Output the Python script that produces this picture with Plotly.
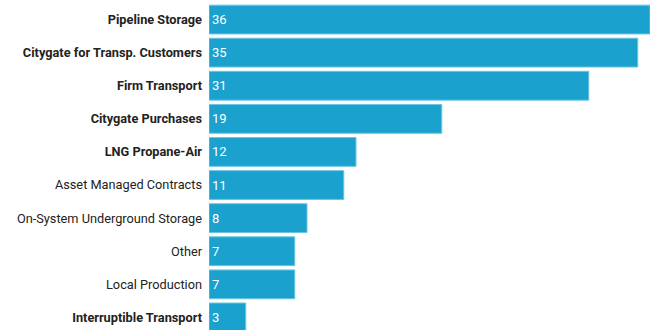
import plotly.graph_objects as go

# Gas supply resources, sorted largest first
categories = [
    "Pipeline Storage",
    "Citygate for Transp. Customers",
    "Firm Transport",
    "Citygate Purchases",
    "LNG Propane-Air",
    "Asset Managed Contracts",
    "On-System Underground Storage",
    "Other",
    "Local Production",
    "Interruptible Transport",
]
values = [36, 35, 31, 19, 12, 11, 8, 7, 7, 3]
highlighted = [True, True, True, True, True, False, False, False, False, True]

tick_text = [f"<b>{c}</b>" if h else c for c, h in zip(categories, highlighted)]

fig = go.Figure(
    go.Bar(
        x=values,
        y=categories,
        orientation="h",
        text=[str(v) for v in values],
        textposition="inside",
        insidetextanchor="start",
        textfont=dict(color="white", size=13, family="Roboto"),
        marker=dict(color="#1ba1cd", line=dict(color="#6cc4e3", width=1)),
        width=0.87,
        hoverinfo="skip",
    )
)

fig.update_layout(
    width=650,
    height=330,
    margin=dict(l=209, r=0, t=3, b=0),
    paper_bgcolor="white",
    plot_bgcolor="white",
    font=dict(family="Roboto", size=12.75, color="#222"),
    showlegend=False,
)
fig.update_xaxes(range=[0, 36], visible=False, fixedrange=True)
fig.update_yaxes(
    type="category",
    tickmode="array",
    tickvals=categories,
    ticktext=tick_text,
    range=[9.38, -0.5],
    showgrid=False,
    zeroline=False,
    showline=False,
    ticks="",
    ticklabelstandoff=6,
    tickfont=dict(size=12.75, color="#222"),
)

fig.write_html("out.html")
